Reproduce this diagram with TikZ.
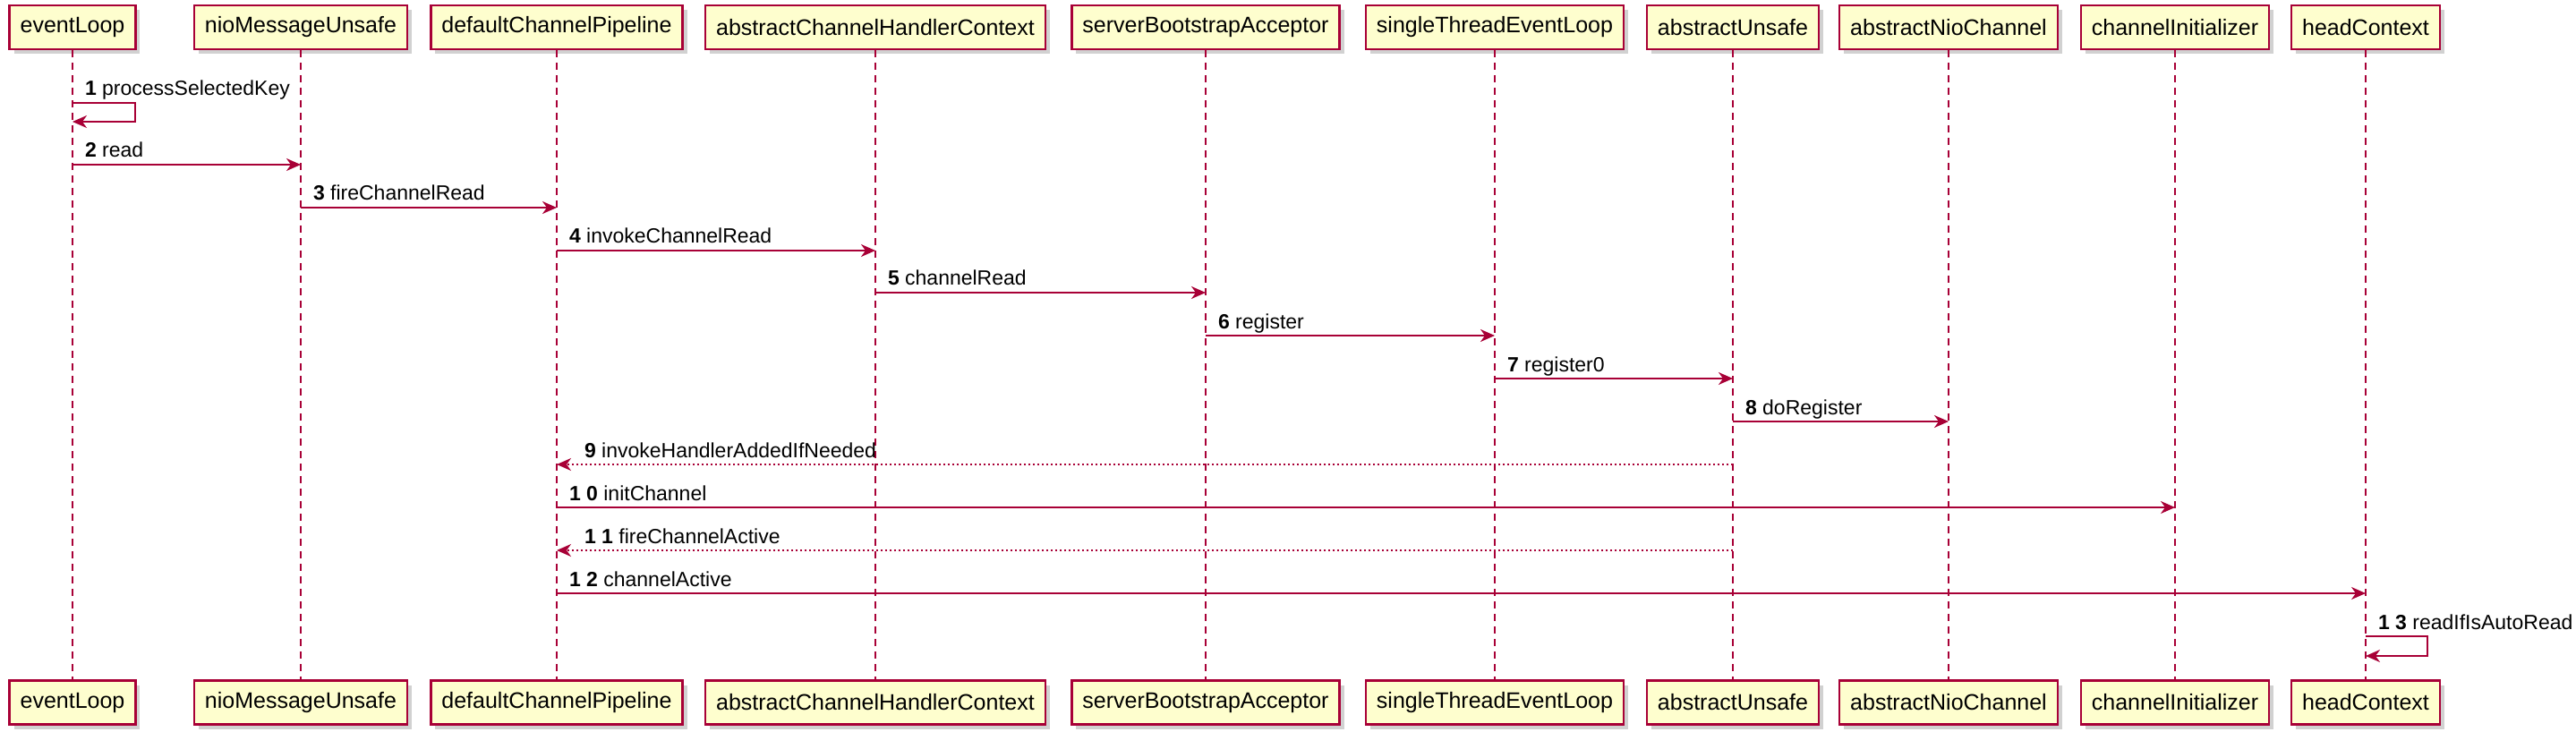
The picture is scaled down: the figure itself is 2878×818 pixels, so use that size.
\documentclass[tikz,border=0pt]{standalone}
\usepackage{fontspec}
\newfontfamily\umlfont{Liberation Sans}
\usetikzlibrary{arrows.meta,shadows,positioning}
\definecolor{umlred}{HTML}{A80036}
\definecolor{umlbox}{HTML}{FEFECE}

\begin{document}
\begin{tikzpicture}[x=1pt, y=-1pt,
      actor/.style={draw=umlred, fill=umlbox, line width=2.4pt, minimum height=49pt,
        inner xsep=12pt, font=\umlfont\fontsize{25}{30}\selectfont,
        drop shadow={shadow xshift=5pt, shadow yshift=-5pt, fill=black!40, opacity=.45}},
      life/.style={umlred, line width=1.6pt, dash pattern=on 8pt off 6pt},
      msg/.style={umlred, line width=2pt, -{Stealth[length=16pt, width=14pt, inset=5pt]}},
      ret/.style={msg, dash pattern=on 2pt off 3pt},
      lbl/.style={font=\umlfont\fontsize{23}{28}\selectfont, text=black, anchor=base west, inner sep=0pt}]
    \useasboundingbox (0,0) rectangle (2878,818);
    % participants, top and bottom
    \node[actor] (el)   at (81,30.5)   {eventLoop};
    \node[actor] (nmu)  at (336,30.5)  {nioMessageUnsafe};
    \node[actor] (dcp)  at (622,30.5)  {defaultChannelPipeline};
    \node[actor] (achc) at (978,30.5)  {abstractChannelHandlerContext};
    \node[actor] (sba)  at (1347,30.5) {serverBootstrapAcceptor};
    \node[actor] (stel) at (1670,30.5) {singleThreadEventLoop};
    \node[actor] (au)   at (1936,30.5) {abstractUnsafe};
    \node[actor] (anc)  at (2177,30.5) {abstractNioChannel};
    \node[actor] (ci)   at (2430,30.5) {channelInitializer};
    \node[actor] (hc)   at (2643,30.5) {headContext};
    \node[actor] (elb)   at (81,785)   {eventLoop};
    \node[actor] (nmub)  at (336,785)  {nioMessageUnsafe};
    \node[actor] (dcpb)  at (622,785)  {defaultChannelPipeline};
    \node[actor] (achcb) at (978,785)  {abstractChannelHandlerContext};
    \node[actor] (sbab)  at (1347,785) {serverBootstrapAcceptor};
    \node[actor] (stelb) at (1670,785) {singleThreadEventLoop};
    \node[actor] (aub)   at (1936,785) {abstractUnsafe};
    \node[actor] (ancb)  at (2177,785) {abstractNioChannel};
    \node[actor] (cib)   at (2430,785) {channelInitializer};
    \node[actor] (hcb)   at (2643,785) {headContext};
    % lifelines
    \draw[life] (el.south) -- (elb.north);
    \draw[life] (nmu.south) -- (nmub.north);
    \draw[life] (dcp.south) -- (dcpb.north);
    \draw[life] (achc.south) -- (achcb.north);
    \draw[life] (sba.south) -- (sbab.north);
    \draw[life] (stel.south) -- (stelb.north);
    \draw[life] (au.south) -- (aub.north);
    \draw[life] (anc.south) -- (ancb.north);
    \draw[life] (ci.south) -- (cib.north);
    \draw[life] (hc.south) -- (hcb.north);
    % messages
    \draw[msg] (el |- 0,115) node[lbl, xshift=13pt, yshift=8pt] (m1) {\textbf{1} processSelectedKey}
      -- ++(70,0) -- ++(0,21) -- (el |- 0,136);
    \draw[msg] (el |- 0,184) -- (nmu |- 0,184) node[lbl, at start, xshift=13pt, yshift=8pt] (m2) {\textbf{2} read};
    \draw[msg] (nmu |- 0,232) -- (dcp |- 0,232) node[lbl, at start, xshift=13pt, yshift=8pt] (m3) {\textbf{3} fireChannelRead};
    \draw[msg] (dcp |- 0,280) -- (achc |- 0,280) node[lbl, at start, xshift=13pt, yshift=8pt] (m4) {\textbf{4} invokeChannelRead};
    \draw[msg] (achc |- 0,327) -- (sba |- 0,327) node[lbl, at start, xshift=13pt, yshift=8pt] (m5) {\textbf{5} channelRead};
    \draw[msg] (sba |- 0,375) -- (stel |- 0,375) node[lbl, at start, xshift=13pt, yshift=8pt] (m6) {\textbf{6} register};
    \draw[msg] (stel |- 0,423) -- (au |- 0,423) node[lbl, at start, xshift=13pt, yshift=8pt] (m7) {\textbf{7} register0};
    \draw[msg] (au |- 0,471) -- (anc |- 0,471) node[lbl, at start, xshift=13pt, yshift=8pt] (m8) {\textbf{8} doRegister};
    \draw[ret] (au |- 0,519) -- (dcp |- 0,519) node[lbl, at end, xshift=30pt, yshift=8pt] (m9) {\textbf{9} invokeHandlerAddedIfNeeded};
    \draw[msg] (dcp |- 0,567) -- (ci |- 0,567) node[lbl, at start, xshift=13pt, yshift=8pt] (m10) {\textbf{1 0} initChannel};
    \draw[ret] (au |- 0,615) -- (dcp |- 0,615) node[lbl, at end, xshift=30pt, yshift=8pt] (m11) {\textbf{1 1} fireChannelActive};
    \draw[msg] (dcp |- 0,663) -- (hc |- 0,663) node[lbl, at start, xshift=13pt, yshift=8pt] (m12) {\textbf{1 2} channelActive};
    \draw[msg] (hc |- 0,711) node[lbl, xshift=13pt, yshift=8pt] (m13) {\textbf{1 3} readIfIsAutoRead}
      -- ++(69,0) -- ++(0,22) -- (hc |- 0,733);
  \end{tikzpicture}
\end{document}
